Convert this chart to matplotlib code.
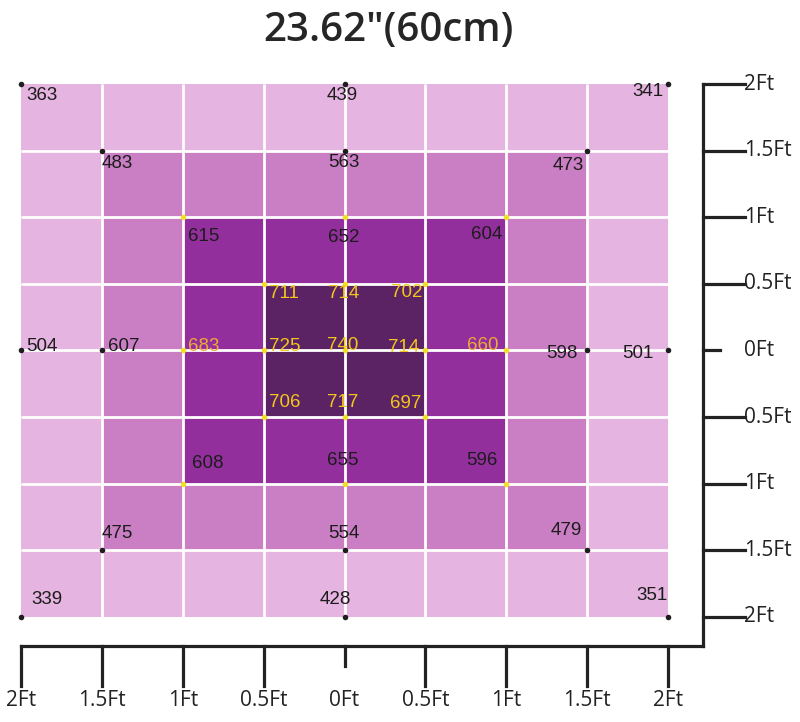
import numpy as np
import matplotlib
matplotlib.use('Agg')
import matplotlib.pyplot as plt
from matplotlib.colors import ListedColormap

# grid edges in feet and cell shading level (top row first)
edges = [-2, -1.5, -1, -0.5, 0, 0.5, 1, 1.5, 2]
levels = [
    [0, 0, 0, 0, 0, 0, 0, 0],
    [0, 1, 1, 1, 1, 1, 1, 0],
    [0, 1, 2, 2, 2, 2, 1, 0],
    [0, 1, 2, 3, 3, 2, 1, 0],
    [0, 1, 2, 3, 3, 2, 1, 0],
    [0, 1, 2, 2, 2, 2, 1, 0],
    [0, 1, 1, 1, 1, 1, 1, 0],
    [0, 0, 0, 0, 0, 0, 0, 0],
]
palette = ['#e5b4e0', '#ca7fc4', '#932f9c', '#5b2364']

# measurement points: x, y, value
pt_x = [-2, 0, 2, -1.5, 0, 1.5, -1, 0, 1, -0.5, 0, 0.5,
        -2, -1.5, -1, -0.5, 0, 0.5, 1, 1.5, 2,
        -0.5, 0, 0.5, -1, 0, 1, -1.5, 0, 1.5, -2, 0, 2]
pt_y = [2, 2, 2, 1.5, 1.5, 1.5, 1, 1, 1, 0.5, 0.5, 0.5,
        0, 0, 0, 0, 0, 0, 0, 0, 0,
        -0.5, -0.5, -0.5, -1, -1, -1, -1.5, -1.5, -1.5, -2, -2, -2]
pt_val = [363, 439, 341, 483, 563, 473, 615, 652, 604, 711, 714, 702,
          504, 607, 683, 725, 740, 714, 660, 598, 501,
          706, 717, 697, 608, 655, 596, 475, 554, 479, 339, 428, 351]

tick_vals = [-2, -1.5, -1, -0.5, 0, 0.5, 1, 1.5, 2]
tick_labels = ['2Ft', '1.5Ft', '1Ft', '0.5Ft', '0Ft', '0.5Ft', '1Ft', '1.5Ft', '2Ft']
title = '23.62"(60cm)'

W, H = 800, 722
fig = plt.figure(figsize=(W / 100, H / 100), dpi=100)
ax = fig.add_axes([21 / W, 1 - 617 / H, (668 - 21) / W, (617 - 84) / H])
ax.set_xlim(-2, 2)
ax.set_ylim(-2, 2)
ax.axis('off')

lv = np.array(levels)[::-1]
ax.pcolormesh(edges, edges, lv, cmap=ListedColormap(palette), vmin=-0.5, vmax=3.5)
# white separators between cells
inner = edges[1:-1]
ax.vlines(inner, -2, 2, colors='white', lw=2.0, zorder=2)
ax.hlines(inner, -2, 2, colors='white', lw=2.0, zorder=2)

px_x = (668 - 21) / 4.0   # pixels per foot
px_y = (617 - 84) / 4.0

yellow_text = '#f3c61c'
orange_text = '#f0a838'
dark_text = '#1c1c1c'
yellow_dot = '#f0e02a'
dark_dot = '#1e1e1e'

# label placement in pixel offsets (dx, dy, ha)
offsets = [(5, -12, 'left'), (-2, -12, 'center'), (-5, -8, 'right'),
           (0, -13, 'left'), (-1, -12, 'center'), (-3, -15, 'right'),
           (5, -19, 'left'), (-1, -20, 'center'), (-4, -17, 'right'),
           (5, -10, 'left'), (-1, -10, 'center'), (-3, -9, 'right'),
           (5, 4, 'left'), (6, 4, 'left'), (5, 4, 'left'), (5, 4, 'left'),
           (-2, 5, 'center'), (-6, 3, 'right'), (-8, 5, 'right'), (-10, -3, 'right'), (-14, -3, 'right'),
           (5, 15, 'left'), (-2, 15, 'center'), (-4, 14, 'right'),
           (9, 20, 'left'), (-2, 23, 'center'), (-9, 23, 'right'),
           (0, 17, 'left'), (-1, 17, 'center'), (-5, 20, 'right'),
           (10, 17, 'left'), (-9, 18, 'center'), (0, 21, 'right')]

for x, y, v, (dx, dy, ha) in zip(pt_x, pt_y, pt_val, offsets):
    r = max(abs(x), abs(y))
    if r <= 0.5:
        dot, tc = yellow_dot, yellow_text
    elif r == 1:
        dot = yellow_dot
        tc = orange_text if y == 0 else dark_text
    else:
        dot, tc = dark_dot, dark_text
    ax.plot(x, y, 'o', ms=4, color=dot, mec='none', clip_on=False, zorder=4)
    ax.annotate(str(v), (x, y), xytext=(dx * 0.72, dy * 0.72), textcoords='offset points',
                ha=ha, va='center', fontsize=13.5, color=tc, family='Liberation Sans',
                zorder=5, annotation_clip=False)

# hand-drawn style axes: right and bottom
ax_x = 2 + 35 / px_x
ax_y = -2 - 29 / px_y
lw = 2.3
ink = '#222222'
ax.plot([ax_x, ax_x], [2, ax_y], color=ink, lw=lw, clip_on=False, solid_capstyle='projecting')
ax.plot([-2, ax_x], [ax_y, ax_y], color=ink, lw=lw, clip_on=False, solid_capstyle='projecting')

lbl_font = dict(family='Open Sans', fontsize=15, color=ink)
for t, lab in zip(tick_vals, tick_labels):
    # right axis (top is +2)
    yy = -t
    tl = 17 if t == 0 else 42
    ax.plot([ax_x, ax_x + tl / px_x], [yy, yy], color=ink, lw=lw, clip_on=False)
    ax.text(ax_x + 41 / px_x, yy, lab, ha='left', va='center', **lbl_font)
    # bottom axis
    bl = 20 if t == 0 else 40
    ax.plot([t, t], [ax_y, ax_y - bl / px_y], color=ink, lw=lw, clip_on=False)
    ax.text(t, ax_y - 55 / px_y, lab, ha='center', va='center', **lbl_font)

fig.text(388 / W, 1 - 31 / H, title, ha='center', va='center', fontsize=29,
         family='Open Sans', fontweight='semibold', color='#262626')

fig.savefig('out.png', dpi=100, facecolor='white')
